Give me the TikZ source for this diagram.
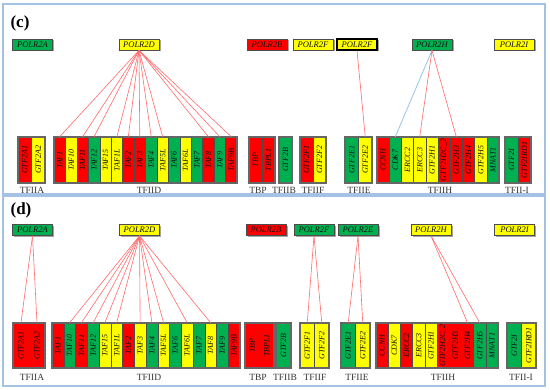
\documentclass[tikz,border=0pt]{standalone}
\usepackage{fontspec}
\setmainfont{Liberation Serif}
\usetikzlibrary{shadows}
\definecolor{cR}{HTML}{FF0000}
\definecolor{cY}{HTML}{FFFF00}
\definecolor{cG}{HTML}{00B050}
\definecolor{frameblue}{HTML}{A4C2E4}
\definecolor{linkred}{HTML}{FF6B6B}
\definecolor{linkblue}{HTML}{9CC3E6}
\definecolor{txt}{HTML}{111111}
\tikzset{
 panel/.style={draw=frameblue, line width=1.1pt},
 panellabel/.style={font=\fontsize{17}{17}\selectfont\bfseries, inner sep=0},
 polr/.style={draw=black!70, line width=0.7pt, minimum width=40pt, minimum height=11pt, inner sep=0,
   font=\fontsize{8.5}{8.5}\selectfont\itshape, text=txt,
   drop shadow={shadow xshift=1.5pt, shadow yshift=-1.5pt, fill=black!70}},
 cell/.style={draw=black!70, line width=0.5pt, inner sep=0, font=\fontsize{8}{8}\selectfont\itshape, text=txt},
 grpborder/.style={draw=black!60, line width=1.1pt},
 grpshadow/.style={fill=black!25},
 grplabel/.style={font=\fontsize{9.5}{9.5}\selectfont, text=black!80, inner sep=0},
 link/.style={draw=linkred, line width=0.6pt},
 bluelink/.style={draw=linkblue, line width=0.8pt},
}
% #1 x0, #2 x1, #3 number of cells, #4 y top, #5 y bottom, #6 list name/label/colour
\newcommand\cellgroup[6]{%
 \fill[grpshadow] (#1+1,#4+1) rectangle (#2+1,#5+1);
 \foreach \nm/\lab/\col [count=\i from 0] in {#6} {
   \node[cell, fill=\col, minimum width={(#2-#1)/#3}, minimum height={#5-#4}] (\nm)
     at ({#1+(#2-#1)/#3*(\i+0.5)}, {(#4+#5)/2}) {\rotatebox{90}{\lab}};
 }
 \draw[grpborder] (#1,#4) rectangle (#2,#5);
}
\begin{document}
\begin{tikzpicture}[x=1pt,y=-1pt]
\useasboundingbox (0,0) rectangle (550,390);
\fill[white] (0,0) rectangle (550,390);
% ---------------- panel (c)
\draw[panel] (3,4) rectangle (545,194);
\node[panellabel] (clabel) at (20,23) {(c)};
\node[polr, fill=cG] (cPOLR2A) at (32.5,44.5) {POLR2A};
\node[polr, fill=cY] (cPOLR2D) at (139,44.5) {POLR2D};
\node[polr, fill=cR] (cPOLR2B) at (267,44.5) {POLR2B};
\node[polr, fill=cY] (cPOLR2Fa) at (313,44.5) {POLR2F};
\node[polr, fill=cY, draw=black, line width=1.2pt] (cPOLR2Fb) at (357,44.5) {POLR2F};
\node[polr, fill=cG] (cPOLR2H) at (432,44.5) {POLR2H};
\node[polr, fill=cY] (cPOLR2I) at (514,44.5) {POLR2I};

\cellgroup{18}{45}{2}{137}{183}{cGTF2A1/GTF2A1/cR, cGTF2A2/GTF2A2/cY}
\cellgroup{54}{237}{16}{137}{183}{cTAF1/TAF1/cR, cTAF10/TAF10/cY, cTAF11/TAF11/cR, cTAF12/TAF12/cG, cTAF15/TAF15/cY, cTAF1L/TAF1L/cY, cTAF2/TAF2/cR, cTAF3/TAF3/cR, cTAF4/TAF4/cG, cTAF5L/TAF5L/cY, cTAF6/TAF6/cG, cTAF6L/TAF6L/cY, cTAF7/TAF7/cG, cTAF8/TAF8/cR, cTAF9/TAF9/cG, cTAF9B/TAF9B/cR}
\cellgroup{249}{275}{2}{137}{183}{cTBP/TBP/cR, cTBPL1/TBPL1/cR}
\cellgroup{279}{292}{1}{137}{183}{cGTF2B/GTF2B/cG}
\cellgroup{300}{326}{2}{137}{183}{cGTF2F1/GTF2F1/cR, cGTF2F2/GTF2F2/cY}
\cellgroup{345}{372}{2}{137}{183}{cGTF2E1/GTF2E1/cG, cGTF2E2/GTF2E2/cY}
\cellgroup{377}{499}{10}{137}{183}{cCCNH/CCNH/cR, cCDK7/CDK7/cG, cERCC2/ERCC2/cY, cERCC3/ERCC3/cY, cGTF2H1/GTF2H1/cY, cGTF2H2C2/GTF2H2C\_2/cR, cGTF2H3/GTF2H3/cR, cGTF2H4/GTF2H4/cR, cGTF2H5/GTF2H5/cY, cMNAT1/MNAT1/cG}
\cellgroup{505}{531}{2}{137}{183}{cGTF2I/GTF2I/cG, cGTF2IRD1/GTF2IRD1/cR}

\node[grplabel] (cLA) at (32,190) {TFIIA};
\node[grplabel] (cLD) at (149,190) {TFIID};
\node[grplabel] (cLT) at (258,190) {TBP};
\node[grplabel] (cLB) at (284,190) {TFIIB};
\node[grplabel] (cLF) at (313,190) {TFIIF};
\node[grplabel] (cLE) at (359,190) {TFIIE};
\node[grplabel] (cLH) at (440,190) {TFIIH};
\node[grplabel] (cLI) at (517,190) {TFII-I};

\foreach \t in {cTAF1,cTAF11,cTAF12,cTAF1L,cTAF2,cTAF3,cTAF4,cTAF5L,cTAF8,cTAF9,cTAF9B}
  \draw[link] (cPOLR2D.south) -- (\t.north);
\draw[link] (cPOLR2Fb.south) -- (cGTF2E2.north);
\draw[bluelink] (cPOLR2H.south) -- (cCDK7.north);
\draw[link] (cPOLR2H.south) -- (cERCC3.north);
\draw[link] (cPOLR2H.south) -- (cGTF2H3.north);

% ---------------- panel (d)
\draw[panel] (3,196) rectangle (545,386);
\node[panellabel] (dlabel) at (21,210) {(d)};
\node[polr, fill=cG] (dPOLR2A) at (32.5,230) {POLR2A};
\node[polr, fill=cY] (dPOLR2D) at (139.5,230) {POLR2D};
\node[polr, fill=cR] (dPOLR2B) at (266,230) {POLR2B};
\node[polr, fill=cG] (dPOLR2F) at (314,230) {POLR2F};
\node[polr, fill=cG] (dPOLR2E) at (358,230) {POLR2E};
\node[polr, fill=cY] (dPOLR2H) at (431,230) {POLR2H};
\node[polr, fill=cY] (dPOLR2I) at (514.5,230) {POLR2I};

\cellgroup{13}{45}{2}{323}{368}{dGTF2A1/GTF2A1/cR, dGTF2A2/GTF2A2/cR}
\cellgroup{52}{240}{16}{323}{368}{dTAF1/TAF1/cR, dTAF10/TAF10/cG, dTAF11/TAF11/cR, dTAF12/TAF12/cG, dTAF15/TAF15/cY, dTAF1L/TAF1L/cY, dTAF2/TAF2/cR, dTAF3/TAF3/cY, dTAF4/TAF4/cG, dTAF5L/TAF5L/cY, dTAF6/TAF6/cG, dTAF6L/TAF6L/cY, dTAF7/TAF7/cG, dTAF8/TAF8/cY, dTAF9/TAF9/cG, dTAF9B/TAF9B/cR}
\cellgroup{245}{274}{2}{323}{368}{dTBP/TBP/cR, dTBPL1/TBPL1/cR}
\cellgroup{276}{291}{1}{323}{368}{dGTF2B/GTF2B/cG}
\cellgroup{300}{329}{2}{323}{368}{dGTF2F1/GTF2F1/cY, dGTF2F2/GTF2F2/cY}
\cellgroup{341}{370}{2}{323}{368}{dGTF2E1/GTF2E1/cG, dGTF2E2/GTF2E2/cY}
\cellgroup{376}{498}{10}{323}{368}{dCCNH/CCNH/cR, dCDK7/CDK7/cY, dERCC2/ERCC2/cR, dERCC3/ERCC3/cY, dGTF2H1/GTF2H1/cY, dGTF2H2C2/GTF2H2C\_2/cR, dGTF2H3/GTF2H3/cR, dGTF2H4/GTF2H4/cR, dGTF2H5/GTF2H5/cG, dMNAT1/MNAT1/cG}
\cellgroup{507}{536}{2}{323}{368}{dGTF2I/GTF2I/cG, dGTF2IRD1/GTF2IRD1/cY}

\node[grplabel] (dLA) at (32,377) {TFIIA};
\node[grplabel] (dLD) at (149,377) {TFIID};
\node[grplabel] (dLT) at (258,377) {TBP};
\node[grplabel] (dLB) at (285,377) {TFIIB};
\node[grplabel] (dLF) at (315,377) {TFIIF};
\node[grplabel] (dLE) at (357,377) {TFIIE};
\node[grplabel] (dLH) at (443,377) {TFIIH};
\node[grplabel] (dLI) at (521,377) {TFII-I};

\draw[link] (dPOLR2A.south) -- (dGTF2A1.north);
\draw[link] (dPOLR2A.south) -- (dGTF2A2.north);
\foreach \t in {dTAF10,dTAF11,dTAF12,dTAF15,dTAF1L,dTAF3,dTAF4,dTAF5L,dTAF6L,dTAF8}
  \draw[link] (dPOLR2D.south) -- (\t.north);
\draw[link] (dPOLR2F.south) -- (dGTF2F1.north);
\draw[link] (dPOLR2F.south) -- (dGTF2F2.north);
\draw[link] (dPOLR2E.south) -- (dGTF2E1.north);
\draw[link] (dPOLR2E.south) -- (dGTF2E2.north);
\draw[link] (dPOLR2H.south) -- (dGTF2H4.north);
\draw[link] (dPOLR2H.south) -- (dGTF2H5.north);
\end{tikzpicture}
\end{document}
